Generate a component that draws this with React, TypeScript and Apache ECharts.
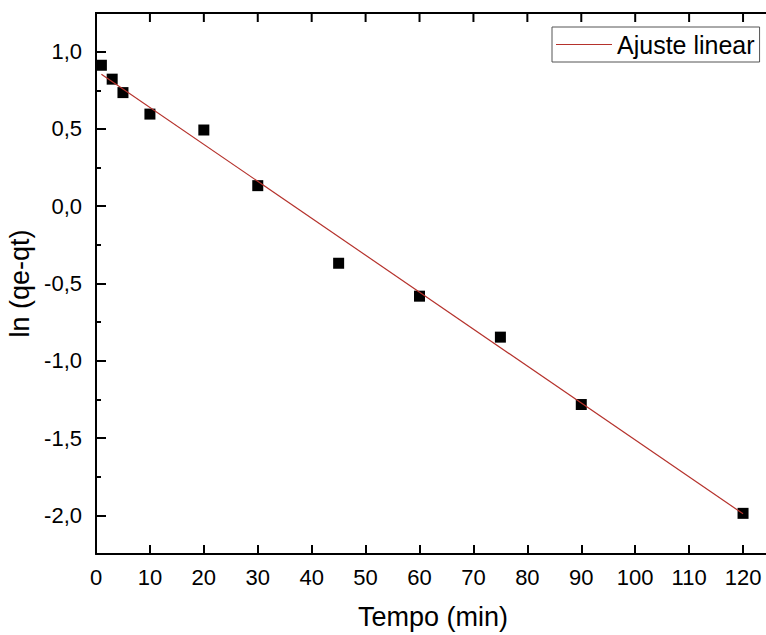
import React, { useEffect, useRef } from "react";
import * as echarts from "echarts";

// Data
const timeMin = [1, 3, 5, 10, 20, 30, 45, 60, 75, 90, 120];
const lnValues = [0.912, 0.822, 0.735, 0.596, 0.493, 0.133, -0.369, -0.582, -0.847, -1.283, -1.987];
const fitX = [1, 120];
const fitY = [0.854, -1.99];
const xTicks = [0, 10, 20, 30, 40, 50, 60, 70, 80, 90, 100, 110, 120];
const yMajorTicks = [-2, -1.5, -1, -0.5, 0, 0.5, 1];
const yMinorTicks = [-1.75, -1.25, -0.75, -0.25, 0.25, 0.75];
const legendName = "Ajuste linear";
const xTitle = "Tempo (min)";
const yTitle = "ln (qe-qt)";

const FONT = "'Liberation Sans', Arial, sans-serif";

export default function App() {
  const ref = useRef<HTMLDivElement>(null);

  useEffect(() => {
    if (!ref.current) return;
    const chart = echarts.init(ref.current, undefined, { renderer: "svg" });
    const fmt = (v: number) => v.toFixed(1).replace(".", ",");
    const mkLine = () => ({ show: true, onZero: false, lineStyle: { color: "#000", width: 2 } });
    const mkTick = (len: number, vals: number[]) => ({
      show: true,
      inside: true,
      length: len,
      lineStyle: { color: "#000", width: 2 },
      customValues: vals,
    });
    const xMin = 0;
    const xMax = 125;
    const yMin = -2.25;
    const yMax = 1.25;

    chart.setOption({
      animation: false,
      backgroundColor: "#fff",
      textStyle: { fontFamily: FONT },
      grid: {
        left: 96,
        right: -4,
        top: 13,
        bottom: 81,
        containLabel: false,
        outerBoundsMode: "none",
      },
      legend: {
        show: true,
        left: 552,
        top: 27,
        orient: "horizontal",
        padding: [4, 5, 4, 4],
        borderColor: "#555",
        borderWidth: 1,
        backgroundColor: "#fff",
        itemWidth: 56,
        itemHeight: 1.2,
        data: [{ name: legendName, icon: "rect" }],
        textStyle: { fontSize: 25, color: "#000", fontFamily: FONT, lineHeight: 27 },
      },
      xAxis: [
        {
          show: true,
          type: "value",
          position: "bottom",
          min: xMin,
          max: xMax,
          name: xTitle,
          nameLocation: "middle",
          nameGap: 49,
          nameTextStyle: { fontSize: 27, color: "#000", fontFamily: FONT },
          axisLine: mkLine(),
          axisTick: mkTick(9, xTicks),
          axisLabel: { show: true, margin: 12, fontSize: 22, color: "#000", fontFamily: FONT, customValues: xTicks, formatter: (v: number) => String(v) },
          splitLine: { show: false },
        },
      ],
      yAxis: [
        {
          show: true,
          type: "value",
          position: "left",
          min: yMin,
          max: yMax,
          name: yTitle,
          nameLocation: "middle",
          nameGap: 58,
          nameTextStyle: { fontSize: 27, color: "#000", fontFamily: FONT },
          axisLine: mkLine(),
          axisTick: mkTick(10, yMajorTicks),
          axisLabel: { show: true, margin: 14, fontSize: 22, color: "#000", fontFamily: FONT, customValues: yMajorTicks, formatter: fmt },
          splitLine: { show: false },
        },
        {
          show: true,
          type: "value",
          position: "left",
          min: yMin,
          max: yMax,
          axisLine: { show: false, onZero: false },
          axisTick: mkTick(5, yMinorTicks),
          axisLabel: { show: false },
          splitLine: { show: false },
        },
      ],
      series: [
        {
          type: "scatter",
          name: "data",
          xAxisIndex: 0,
          yAxisIndex: 0,
          symbol: "rect",
          symbolSize: 11,
          itemStyle: { color: "#000", opacity: 1 },
          data: timeMin.map((x, i) => [x, lnValues[i]]),
          z: 2,
        },
        {
          type: "line",
          name: legendName,
          xAxisIndex: 0,
          yAxisIndex: 0,
          showSymbol: false,
          symbol: "none",
          lineStyle: { color: "#b5322c", width: 1.2 },
          itemStyle: { color: "#b5322c" },
          data: fitX.map((x, i) => [x, fitY[i]]),
          z: 3,
        },
      ],
    });

    // Top frame axis (filled bar + inward ticks) placed through the chart's own scales
    const toPx = (x: number, y: number) =>
      chart.convertToPixel({ xAxisIndex: 0, yAxisIndex: 0 }, [x, y]) as number[];
    const topL = toPx(xMin, yMax);
    const topR = toPx(xMax, yMax);
    const elems: any[] = [
      {
        type: "rect",
        shape: { x: topL[0] - 1, y: topL[1] - 1, width: topR[0] - topL[0] + 2, height: 2 },
        style: { fill: "#000" },
        z: 100,
      },
    ];
    xTicks.forEach((v) => {
      const p = toPx(v, yMax);
      elems.push({
        type: "rect",
        shape: { x: p[0] - 1, y: p[1], width: 2, height: 9 },
        style: { fill: "#000" },
        z: 100,
      });
    });
    chart.setOption({ graphic: { elements: elems } });

    return () => chart.dispose();
  }, []);

  return (
    <div
      ref={ref}
      style={{ position: "absolute", left: 0, top: 0, width: 766, height: 635 }}
    />
  );
}
